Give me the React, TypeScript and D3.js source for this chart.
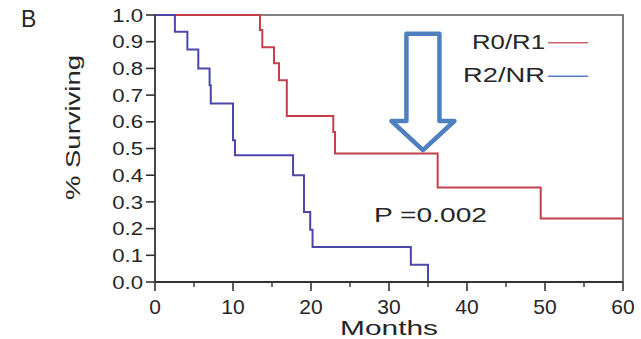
import * as d3 from "d3";

// Kaplan-Meier steps: [months, survival after the drop]
const redSteps: [number, number][] = [
  [0, 1.0],
  [13.46, 0.944],
  [13.76, 0.879],
  [15.26, 0.819],
  [15.9, 0.756],
  [16.9, 0.622],
  [22.86, 0.562],
  [23.08, 0.481],
  [36.24, 0.354],
  [49.45, 0.238],
  [60, 0.238],
];

const blueSteps: [number, number][] = [
  [0, 1.0],
  [2.55, 0.9375],
  [4.15, 0.871],
  [5.55, 0.8],
  [7.0, 0.737],
  [7.15, 0.669],
  [10.0, 0.531],
  [10.25, 0.475],
  [17.7, 0.4],
  [19.1, 0.262],
  [19.9, 0.196],
  [20.2, 0.131],
  [32.8, 0.065],
  [35.0, 0.0],
];

const yTicks = d3.range(0, 11).map((i) => i / 10);
const xMajor = [0, 10, 20, 30, 40, 50, 60];
const xMinor = [5, 15, 25, 35, 45, 55];

const legendItems = [
  { label: "R0/R1", color: "#d0606e", width: 73 },
  { label: "R2/NR", color: "#5b80c2", width: 82 },
];

// arrow annotation pointing at the R0/R1 curve
const arrowTip: [number, number] = [34.35, 0.494];
const arrowTop = 0.93;
const arrowHeadBase = 0.603;

const W = 641;
const H = 339;
const margin = { top: 15, right: 18, bottom: 57, left: 155 };

const x = d3
  .scaleLinear()
  .domain([0, 60])
  .range([margin.left, W - margin.right]);
const y = d3
  .scaleLinear()
  .domain([0, 1])
  .range([H - margin.bottom, margin.top]);

const stepLine = d3
  .line<[number, number]>()
  .x((d) => x(d[0]))
  .y((d) => y(d[1]))
  .curve(d3.curveStepAfter);

const font = "'Liberation Sans', Arial, Helvetica, sans-serif";
const ink = "#262626";

export default function App() {
  const x0 = x(0),
    x1 = x(60),
    y0 = y(0),
    y1 = y(1);

  // arrow outline
  const cx = x(arrowTip[0]);
  const shaftHalf = 16.5;
  const headHalf = 31.5;
  const arrowPts = [
    [cx - shaftHalf, y(arrowTop)],
    [cx + shaftHalf, y(arrowTop)],
    [cx + shaftHalf, y(arrowHeadBase)],
    [cx + headHalf, y(arrowHeadBase)],
    [cx, y(arrowTip[1])],
    [cx - headHalf, y(arrowHeadBase)],
    [cx - shaftHalf, y(arrowHeadBase)],
  ]
    .map((p) => p.join(","))
    .join(" ");

  return (
    <div style={{ position: "absolute", left: 0, top: 0 }}>
      <svg width={W} height={H} style={{ display: "block", background: "#fff" }}>
        {/* panel letter */}
        <text x={21} y={27} fontFamily={font} fontSize={23} fill={ink}>
          B
        </text>

        {/* frame top and right */}
        <path
          d={`M${x0},${y1}H${x1}V${y0}`}
          fill="none"
          stroke="#5a5a5a"
          strokeWidth={1.6}
        />

        {/* curves */}
        <path d={stepLine(redSteps)!} fill="none" stroke="#c2404c" strokeWidth={2} />
        <path d={stepLine(blueSteps)!} fill="none" stroke="#4a47a6" strokeWidth={2} />

        {/* axes */}
        <path d={`M${x0},${y1}V${y0}H${x1}`} fill="none" stroke="#333" strokeWidth={1.8} />

        {yTicks.map((t) => (
          <g key={"y" + t}>
            <line x1={x0 - 9} x2={x0} y1={y(t)} y2={y(t)} stroke="#333" strokeWidth={1.6} />
            <text
              transform={`translate(${x0 - 12},${y(t)}) scale(1.2,1)`}
              dy="0.36em"
              textAnchor="end"
              fontFamily={font}
              fontSize={18.5}
              fill={ink}
            >
              {d3.format(".1f")(t)}
            </text>
          </g>
        ))}

        {xMajor.map((t) => (
          <g key={"x" + t}>
            <line x1={x(t)} x2={x(t)} y1={y0} y2={y0 + 9} stroke="#333" strokeWidth={1.6} />
            <text
              transform={`translate(${x(t)},${y0 + 32}) scale(1.05,1)`}
              textAnchor="middle"
              fontFamily={font}
              fontSize={20}
              fill={ink}
            >
              {t}
            </text>
          </g>
        ))}
        {xMinor.map((t) => (
          <line
            key={"m" + t}
            x1={x(t)}
            x2={x(t)}
            y1={y0}
            y2={y0 + 5}
            stroke="#333"
            strokeWidth={1.4}
          />
        ))}

        {/* axis titles */}
        <text
          x={(x0 + x1) / 2}
          y={335}
          textAnchor="middle"
          fontFamily={font}
          fontSize={21}
          textLength={98}
          lengthAdjust="spacingAndGlyphs"
          fill={ink}
        >
          Months
        </text>
        <text
          transform={`translate(80,127.5) rotate(-90)`}
          textAnchor="middle"
          fontFamily={font}
          fontSize={21}
          textLength={145}
          lengthAdjust="spacingAndGlyphs"
          fill={ink}
        >
          % Surviving
        </text>

        {/* legend */}
        {legendItems.map((d, i) => {
          const ly = 42.7 + i * 33.5;
          return (
            <g key={d.label}>
              <text
                x={545}
                y={ly + 5.8}
                textAnchor="end"
                fontFamily={font}
                fontSize={21}
                textLength={d.width}
                lengthAdjust="spacingAndGlyphs"
                fill={ink}
              >
                {d.label}
              </text>
              <line x1={548} x2={588} y1={ly} y2={ly} stroke={d.color} strokeWidth={1.6} />
            </g>
          );
        })}

        {/* p-value */}
        <text
          x={374}
          y={221.5}
          fontFamily={font}
          fontSize={21}
          textLength={113}
          lengthAdjust="spacingAndGlyphs"
          fill={ink}
        >
          P =0.002
        </text>

        {/* arrow */}
        <polygon
          points={arrowPts}
          fill="none"
          stroke="#4e80c0"
          strokeWidth={4.5}
          strokeLinejoin="round"
        />
      </svg>
    </div>
  );
}
